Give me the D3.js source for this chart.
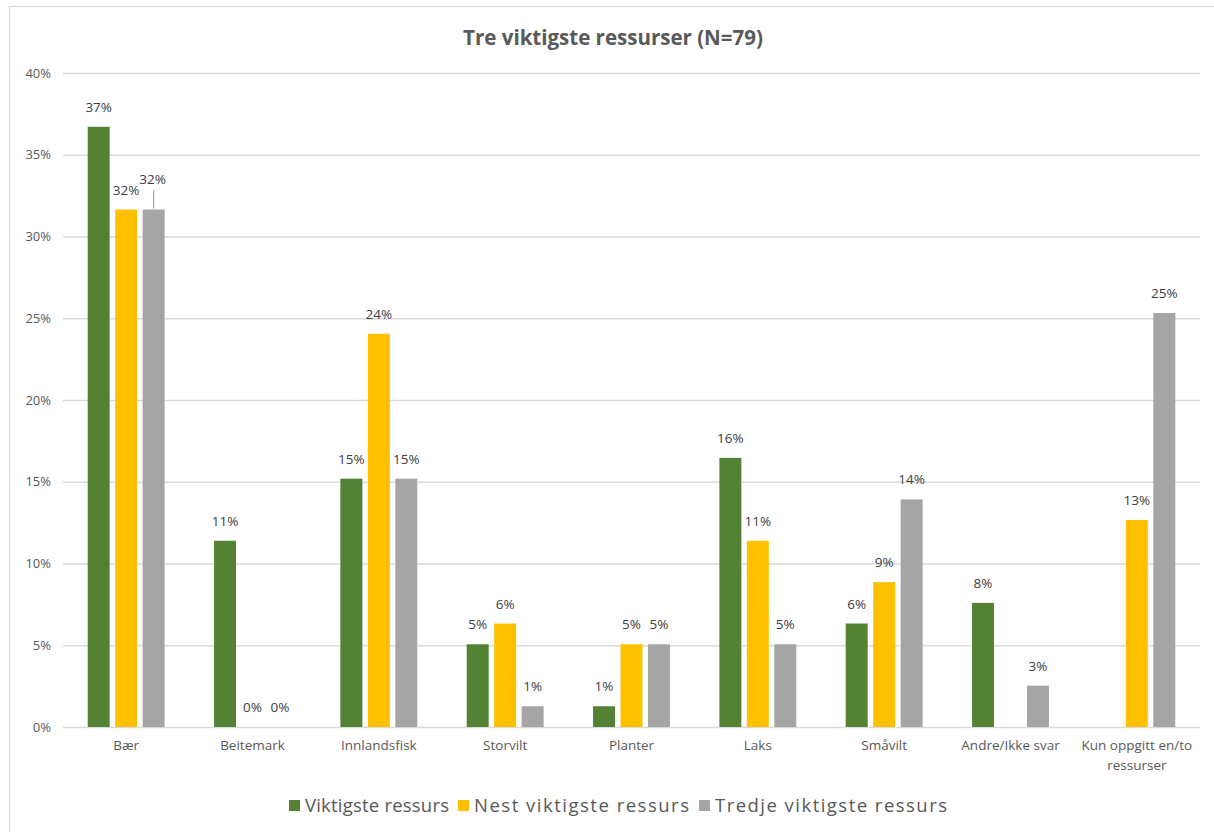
<!DOCTYPE html>
<html>
<head>
<meta charset="utf-8">
<script src="https://cdn.jsdelivr.net/npm/d3@7/dist/d3.min.js"></script>
<style>
  html, body { margin: 0; padding: 0; background: #fff; }
  svg { display: block; font-family: "Open Sans", "Noto Sans", sans-serif; }
</style>
</head>
<body>
<svg id="chart" width="1214" height="832"></svg>
<script>
// Share of respondents (N=79) naming each resource as most, second and third most important
const categories = ["Bær", "Beitemark", "Innlandsfisk", "Storvilt", "Planter", "Laks", "Småvilt", "Andre/Ikke svar", "Kun oppgitt en/to ressurser"];
const seriesNames = ["Viktigste ressurs", "Nest viktigste ressurs", "Tredje viktigste ressurs"];
const seriesColors = ["#548235", "#FFC000", "#A5A5A5"];
const viktigste = [36.71, 11.39, 15.19, 5.06, 1.27, 16.46, 6.33, 7.59, null];
const nestViktigste = [31.65, 0, 24.05, 6.33, 5.06, 11.39, 8.86, null, 12.66];
const tredjeViktigste = [31.65, 0, 15.19, 1.27, 5.06, 5.06, 13.92, 2.53, 25.32];
const yTicks = [0, 5, 10, 15, 20, 25, 30, 35, 40];
const chartTitle = "Tre viktigste ressurser (N=79)";

const values = [viktigste, nestViktigste, tredjeViktigste];

const svg = d3.select("#chart");
const textColor = "#595959";
const labelColor = "#404040";

// chart area frame
svg.append("rect")
  .attr("x", 9.5).attr("y", 6.5)
  .attr("width", 1230).attr("height", 840)
  .attr("fill", "#fff")
  .attr("stroke", "#d9d9d9").attr("stroke-width", 1.2);

const plot = { left: 63, right: 1200, top: 73, bottom: 727 };

const x = d3.scaleBand().domain(categories).range([plot.left, plot.right]).padding(0);
const xs = d3.scaleBand().domain(d3.range(seriesNames.length))
  .range([0, x.bandwidth()]).paddingInner(0.2).paddingOuter(0.9);
const y = d3.scaleLinear().domain([0, 40]).range([plot.bottom, plot.top]);

// title
svg.append("text")
  .attr("x", 613).attr("y", 45)
  .attr("text-anchor", "middle")
  .attr("font-size", 20.5).attr("font-weight", "bold")
  .attr("fill", textColor)
  .text(chartTitle);

// gridlines and y axis labels
const yAxis = d3.axisLeft(y).tickValues(yTicks)
  .tickSize(-(plot.right - plot.left))
  .tickPadding(12)
  .tickFormat(d => d + "%");
const gy = svg.append("g").attr("transform", `translate(${plot.left},0)`).call(yAxis);
gy.select(".domain").remove();
gy.selectAll(".tick line").attr("stroke", "#d9d9d9").attr("stroke-width", 1.3);
gy.selectAll(".tick text").attr("fill", textColor).attr("font-size", 13)
  .attr("font-family", "'Open Sans', sans-serif");

// category axis labels
const xAxis = d3.axisBottom(x).tickSize(0).tickPadding(13);
const gx = svg.append("g").attr("transform", `translate(0,${plot.bottom})`).call(xAxis);
gx.select(".domain").remove();
gx.selectAll(".tick text")
  .attr("fill", textColor).attr("font-size", 13.5)
  .attr("font-family", "'Open Sans', sans-serif")
  .each(function (d) {
    if (d === "Kun oppgitt en/to ressurser") {
      const t = d3.select(this).text(null);
      t.append("tspan").attr("x", 0).attr("dy", "0.71em").text("Kun oppgitt en/to");
      t.append("tspan").attr("x", 0).attr("dy", "1.5em").text("ressurser");
      t.attr("dy", null);
    }
  });

// bars
const rows = [];
categories.forEach((c, i) => {
  values.forEach((arr, s) => {
    if (arr[i] !== null) rows.push({ cat: c, i, s, v: arr[i] });
  });
});

svg.append("g").selectAll("rect")
  .data(rows.filter(d => d.v > 0))
  .join("rect")
  .attr("x", d => x(d.cat) + xs(d.s))
  .attr("y", d => y(d.v))
  .attr("width", xs.bandwidth())
  .attr("height", d => y(0) - y(d.v))
  .attr("fill", d => seriesColors[d.s]);

// value labels; the third Bær label is lifted with a leader line to clear its neighbour
const lbl = svg.append("g");
rows.forEach(d => {
  const cx = x(d.cat) + xs(d.s) + xs.bandwidth() / 2;
  let ty = y(d.v) - 15;
  let tx = cx;
  if (d.i === 0 && d.s === 2) {
    ty = y(d.v) - 26;
    tx = cx - 1;
    lbl.append("line")
      .attr("x1", cx).attr("x2", cx)
      .attr("y1", y(d.v) - 1).attr("y2", y(d.v) - 19)
      .attr("stroke", "#A5A5A5").attr("stroke-width", 1.2);
  }
  lbl.append("text")
    .attr("x", tx).attr("y", ty)
    .attr("text-anchor", "middle")
    .attr("font-size", 13.5)
    .attr("fill", labelColor)
    .text(Math.round(d.v) + "%");
});

// legend
const legendX = [289, 458, 699];
const legendWidths = [144, 215, 232];
const lg = svg.append("g");
seriesNames.forEach((n, s) => {
  lg.append("rect")
    .attr("x", legendX[s]).attr("y", 800)
    .attr("width", 11).attr("height", 11)
    .attr("fill", seriesColors[s]);
  lg.append("text")
    .attr("x", legendX[s] + 16).attr("y", 812)
    .attr("font-size", 18.5)
    .attr("fill", textColor)
    .attr("textLength", legendWidths[s])
    .attr("lengthAdjust", "spacing")
    .text(n);
});
</script>
</body>
</html>
